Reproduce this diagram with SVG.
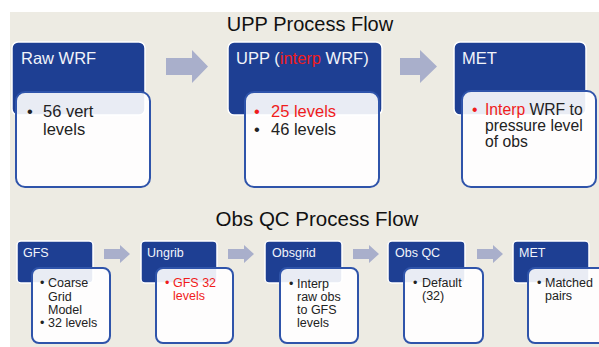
<svg xmlns="http://www.w3.org/2000/svg" width="599" height="347" viewBox="0 0 599 347">
<style>
.hd{fill:#1E3F93;stroke:#FFFFFF;stroke-width:1.5}
.bd{fill:#FFFFFF;fill-opacity:0.9;stroke:#2F54AA;stroke-width:2}
.ar{fill:#A9AFCB}
text{font-family:"Liberation Sans",Arial,sans-serif}
.ht{fill:#F2F4FA;font-size:16.5px}
.hs{fill:#F2F4FA;font-size:12.5px}
.bt{fill:#222222;font-size:16.5px}
.bs{fill:#222222;font-size:12.5px}
.red{fill:#F01C1C}
.ti{fill:#111111;font-size:20px;text-anchor:middle}
</style>
<rect x="0" y="0" width="599" height="347" fill="#FFFFFF"/>
<rect x="10" y="12" width="589" height="335" fill="#EDEBE3"/>
<text class="ti" x="310" y="31">UPP Process Flow</text>
<text class="ti" x="317" y="226" style="font-size:20.5px">Obs QC Process Flow</text>
<g id="connectors">
<polygon class="ar" points="166,58 192,58 192,50 208,66.5 192,83 192,75 166,75"/>
<polygon class="ar" points="400,58 420,58 420,50 437,66.5 420,83 420,75 400,75"/>
<polygon class="ar" points="104,249 120,249 120,245 130,254 120,263 120,259 104,259"/>
<polygon class="ar" points="228,249 244,249 244,245 254,254 244,263 244,259 228,259"/>
<polygon class="ar" points="353,249 369,249 369,245 379,254 369,263 369,259 353,259"/>
<polygon class="ar" points="477,249 493,249 493,245 503,254 493,263 493,259 477,259"/>
</g>
<g id="raw-wrf">
<rect class="hd" x="12" y="42" width="133" height="73" rx="6"/>
<text class="ht" x="21" y="64">Raw WRF</text>
<rect class="bd" x="16" y="92" width="134" height="95" rx="9"/>
<text class="bt" x="27" y="117">•</text>
<text class="bt" x="43" y="117">56 vert</text>
<text class="bt" x="43" y="135">levels</text>
</g>
<g id="upp">
<rect class="hd" x="228" y="42" width="154" height="73" rx="6"/>
<text class="ht" x="236" y="64">UPP (<tspan class="red">interp</tspan> WRF)</text>
<rect class="bd" x="245" y="92" width="134" height="95" rx="9"/>
<text class="bt red" x="254" y="117">•</text>
<text class="bt red" x="271" y="117">25 levels</text>
<text class="bt" x="254" y="135">•</text>
<text class="bt" x="271" y="135">46 levels</text>
</g>
<g id="met-top">
<rect class="hd" x="454" y="42" width="132" height="73" rx="6"/>
<text class="ht" x="462" y="64">MET</text>
<rect class="bd" x="462" y="91" width="134" height="96" rx="9"/>
<text class="bt red" x="472" y="115" style="font-size:15.7px">•</text>
<text class="bt" x="485" y="115" style="font-size:15.7px"><tspan class="red">Interp</tspan> WRF to</text>
<text class="bt" x="485" y="131" style="font-size:15.7px">pressure level</text>
<text class="bt" x="485" y="147" style="font-size:15.7px">of obs</text>
</g>
<g id="gfs">
<rect class="hd" x="17" y="241" width="76" height="42" rx="4"/>
<text class="hs" x="23" y="257">GFS</text>
<rect class="bd" x="32" y="268" width="78" height="75" rx="7"/>
<text class="bs" x="40" y="287">•</text>
<text class="bs" x="48" y="287">Coarse</text>
<text class="bs" x="48" y="301">Grid</text>
<text class="bs" x="48" y="314">Model</text>
<text class="bs" x="40" y="327">•</text>
<text class="bs" x="48" y="327">32 levels</text>
</g>
<g id="ungrib">
<rect class="hd" x="141" y="241" width="76" height="42" rx="4"/>
<text class="hs" x="147" y="257">Ungrib</text>
<rect class="bd" x="156" y="268" width="77" height="75" rx="7"/>
<text class="bs red" x="165" y="287">•</text>
<text class="bs red" x="173" y="287">GFS 32</text>
<text class="bs red" x="173" y="300">levels</text>
</g>
<g id="obsgrid">
<rect class="hd" x="265" y="241" width="77" height="42" rx="4"/>
<text class="hs" x="272" y="257">Obsgrid</text>
<rect class="bd" x="280" y="268" width="78" height="75" rx="7"/>
<text class="bs" x="289" y="288">•</text>
<text class="bs" x="297" y="288">Interp</text>
<text class="bs" x="297" y="301">raw obs</text>
<text class="bs" x="297" y="314">to GFS</text>
<text class="bs" x="297" y="327">levels</text>
</g>
<g id="obsqc">
<rect class="hd" x="388" y="241" width="77" height="42" rx="4"/>
<text class="hs" x="395" y="257">Obs QC</text>
<rect class="bd" x="404" y="268" width="79" height="75" rx="7"/>
<text class="bs" x="413" y="287">•</text>
<text class="bs" x="422" y="287">Default</text>
<text class="bs" x="422" y="300">(32)</text>
</g>
<g id="met-bottom">
<rect class="hd" x="513" y="241" width="76" height="42" rx="4"/>
<text class="hs" x="519" y="257">MET</text>
<rect class="bd" x="528" y="268" width="80" height="75" rx="7"/>
<text class="bs" x="537" y="287">•</text>
<text class="bs" x="545" y="287">Matched</text>
<text class="bs" x="545" y="300">pairs</text>
</g>
</svg>
